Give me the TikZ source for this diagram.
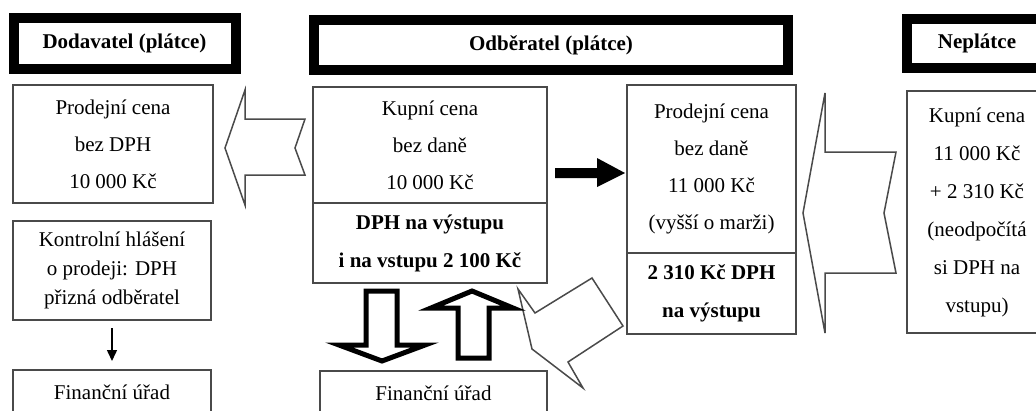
\documentclass[tikz,border=0pt]{standalone}
\usepackage{fontspec}
\setmainfont{Liberation Serif}
\usetikzlibrary{arrows.meta}
\definecolor{boxc}{HTML}{4A4A4A}
\begin{document}
\begin{tikzpicture}[x=1pt,y=-1pt,
  hdr/.style={draw=black,line width=10pt,inner sep=0pt,font=\fontsize{21}{26}\selectfont\bfseries},
  box/.style={draw=boxc,line width=2pt,inner sep=0pt,align=center,font=\fontsize{21}{37}\selectfont},
  barrow/.style={draw=boxc,line width=1.5pt,line join=miter,fill=white},
  harrow/.style={draw=black,line width=5pt,fill=white,line join=miter},
]
\clip (0,0) rectangle (1036,410);
\fill[white] (0,0) rectangle (1036,410);

% headers
\node[hdr,minimum width=222pt,minimum height=50.5pt] (dod) at (124.5,43.25) {Dodavatel (plátce)};
\node[hdr,minimum width=474pt,minimum height=50pt] (odb) at (551,45) {Odběratel (plátce)};
\node[hdr,minimum width=140pt,minimum height=49pt] (nep) at (977,43.5) {Neplátce};

% left column
\node[box,minimum width=200pt,minimum height=118pt] (prod1) at (113,144) {Prodejní cena\\bez DPH\\10 000 Kč};
\node[box,minimum width=198pt,minimum height=99pt,font=\fontsize{21}{29}\selectfont] (kontrol) at (112,270.5) {Kontrolní hlášení\\o prodeji: DPH\\přizná odběratel};
\node[box,minimum width=198pt,minimum height=44pt] (fin1) at (112,392) {Finanční úřad};

% middle column
\node[box,minimum width=234pt,minimum height=116pt] (kupni) at (430,145) {Kupní cena\\bez daně\\10 000 Kč};
\node[box,minimum width=234pt,minimum height=80pt,font=\fontsize{21}{38}\selectfont\bfseries] (dphm) at (430,243) {DPH na výstupu\\i na vstupu 2 100 Kč};
\node[box,minimum width=227pt,minimum height=44pt] (fin2) at (433.5,393) {Finanční úřad};

% right-middle column
\node[box,minimum width=169pt,minimum height=168pt] (prod2) at (711.5,169) {Prodejní cena\\bez daně\\11 000 Kč\\(vyšší o marži)};
\node[box,minimum width=169pt,minimum height=81pt,font=\fontsize{21}{38}\selectfont\bfseries] (dph2) at (711.5,293.5) {2 310 Kč DPH\\na výstupu};

% right column
\node[box,minimum width=140pt,minimum height=242pt,font=\fontsize{21}{38}\selectfont] (nepbox) at (977,212) {Kupní cena\\11 000 Kč\\+ 2 310 Kč\\(neodpočítá\\si DPH na\\vstupu)};

% connectors
\draw[line width=1.5pt,-{Triangle[length=11pt,width=10pt]},shorten <=7pt,shorten >=8pt] (kontrol.south) -- (fin1.north);

% black arrow kupni -> prod2
\coordinate (ba0) at (555,173);
\coordinate (ba1) at (625,173);
\fill[black] (555,168) -- (597,168) -- (597,158) -- (ba1) -- (597,187) -- (597,178) -- (555,178) -- cycle;

% block arrows (outline)
\draw[barrow] (225,148) -- (245,90) -- (245,119) -- (305,119) -- (295,148) -- (305,175) -- (245,175) -- (245,205) -- cycle;
\draw[barrow] (803,213) -- (825,93) -- (825,152) -- (896,152) -- (884,213) -- (896,273) -- (825,273) -- (825,333) -- cycle;
\draw[barrow] (518,289) -- (535,313) -- (592,278) -- (623,326) -- (568,362) -- (583,388) -- (532,349) -- cycle;

% hollow thick arrows
\draw[harrow] (366,291) -- (397,291) -- (397,345) -- (425,345) -- (382,361) -- (339,345) -- (366,345) -- cycle;
\draw[harrow] (472,291) -- (513,308) -- (489,308) -- (489,358) -- (458,358) -- (458,308) -- (431,308) -- cycle;
\end{tikzpicture}
\end{document}
